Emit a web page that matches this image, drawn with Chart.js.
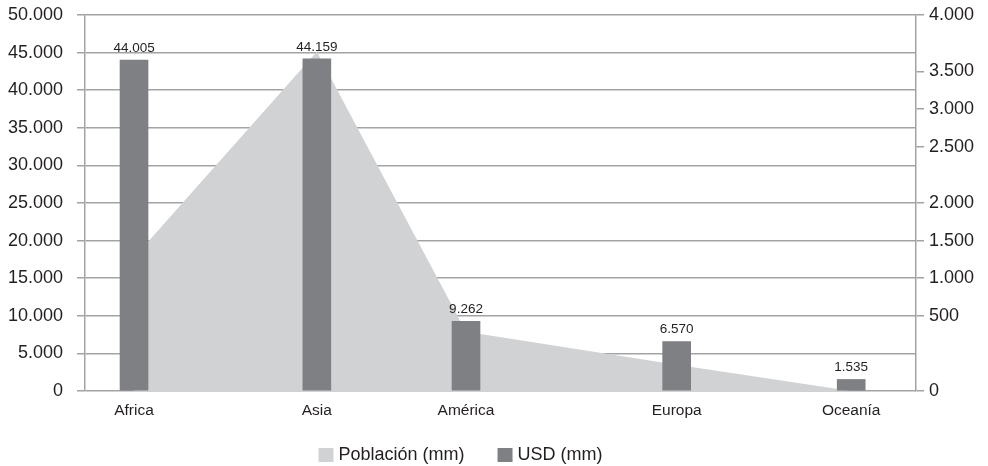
<!DOCTYPE html>
<html>
<head>
<meta charset="utf-8">
<script src="https://cdn.jsdelivr.net/npm/chart.js@4.4.1/dist/chart.umd.min.js"></script>
<style>
  html, body { margin: 0; padding: 0; background: #fff; }
  #wrap { width: 988px; height: 466px; position: relative; }
</style>
</head>
<body>
<div id="wrap"><canvas id="chart"></canvas></div>
<script>
// data
var categories = ['Africa', 'Asia', 'América', 'Europa', 'Oceanía'];
var catX = [0.59, 2.79, 4.585, 7.12, 9.22];        // where each category sits on the x scale
var usd = [44005, 44159, 9262, 6570, 1535];        // USD (mm), left axis
var poblacion = [1420, 3610, 630, 280, 0];         // Población (mm), right axis
var leftTicks = [0, 5000, 10000, 15000, 20000, 25000, 30000, 35000, 40000, 45000, 50000];
var rightTickLabels = ['0', '500', '1.000', '1.500', '2.000', '2.500', '3.000', '3.500', '4.000'];

var TEXT = '#231f20';
var GRID = '#a3a3a3';
var BAR = '#7f8084';
var AREA = '#d1d2d4';
var FONT = '"Liberation Sans", Arial, sans-serif';

function fmt(n) {
    return String(n).replace(/\B(?=(\d{3})+(?!\d))/g, '.');
}

// the right axis labels do not sit evenly in the picture
var rightTickAt = [0, 800, 1200, 1600, 2000, 2600, 3000, 3400, 4000];

// labels above bars
var barLabels = {
    id: 'barLabels',
    afterDatasetsDraw: function(chart) {
        var ctx = chart.ctx;
        var meta = chart.getDatasetMeta(0);
        ctx.save();
        ctx.font = '13.5px ' + FONT;
        ctx.fillStyle = TEXT;
        ctx.textAlign = 'center';
        ctx.textBaseline = 'middle';
        meta.data.forEach(function(bar, i) {
            ctx.fillText(fmt(usd[i]), bar.x, bar.y - 12);
        });
        ctx.restore();
    }
};

// legend drawn by hand, Población first
var legendBoxes = {
    id: 'legendBoxes',
    afterDraw: function(chart) {
        var ctx = chart.ctx;
        var items = [
            { text: chart.data.datasets[1].label, color: AREA },
            { text: chart.data.datasets[0].label, color: BAR }
        ];
        ctx.save();
        ctx.font = '18px ' + FONT;
        ctx.textBaseline = 'middle';
        var box = 15, gap = 5, itemGap = 33;
        var total = 0;
        items.forEach(function(it, i) {
            it.w = box + gap + ctx.measureText(it.text).width;
            total += it.w + (i ? itemGap : 0);
        });
        var x = (chart.chartArea.left + chart.chartArea.right) / 2 - 40 - total / 2;
        var y = 455;
        items.forEach(function(it) {
            ctx.fillStyle = it.color;
            ctx.fillRect(x, y - 7, box, 14);
            ctx.fillStyle = TEXT;
            ctx.fillText(it.text, x + box + gap, y);
            x += it.w + itemGap;
        });
        ctx.restore();
    }
};

Chart.defaults.font.family = FONT;
Chart.defaults.color = TEXT;

var ctx = document.getElementById('chart').getContext('2d');
var myChart = new Chart(ctx, {
    type: 'bar',
    data: {
        datasets: [
            {
                type: 'bar',
                label: 'USD (mm)',
                data: usd.map(function(v, i) { return { x: catX[i], y: v }; }),
                backgroundColor: BAR,
                barThickness: 28,
                yAxisID: 'y'
            },
            {
                type: 'line',
                label: 'Población (mm)',
                data: poblacion.map(function(v, i) { return { x: catX[i], y: v }; }),
                backgroundColor: AREA,
                borderWidth: 0,
                pointRadius: 0,
                tension: 0,
                fill: 'origin',
                yAxisID: 'y2'
            }
        ]
    },
    options: {
        responsive: true,
        maintainAspectRatio: false,
        animation: false,
        layout: { padding: { top: 15, left: 0, right: 0, bottom: 0 } },
        plugins: {
            legend: { display: false },
            tooltip: { enabled: false }
        },
        scales: {
            x: {
                type: 'linear',
                offset: false,
                min: 0,
                max: 10,
                grid: { display: false },
                border: { display: false },
                afterBuildTicks: function(scale) {
                    scale.ticks = catX.map(function(v) { return { value: v }; });
                },
                afterFit: function(scale) { scale.height = 75; },
                ticks: {
                    autoSkip: false,
                    maxRotation: 0,
                    padding: 2,
                    font: { size: 15.5 },
                    color: TEXT,
                    callback: function(v, i) { return categories[i]; }
                }
            },
            y: {
                position: 'left',
                min: 0,
                max: 50000,
                afterBuildTicks: function(scale) {
                    scale.ticks = leftTicks.map(function(v) { return { value: v }; });
                },
                afterFit: function(scale) {
                    scale.width = 85;
                    scale.paddingTop = 0;
                    scale.paddingBottom = 0;
                },
                grid: { color: GRID, lineWidth: 1.5, tickLength: 8 },
                border: { color: GRID, width: 1.5 },
                ticks: {
                    padding: 14,
                    font: { size: 18 },
                    color: TEXT,
                    callback: function(v) { return fmt(v); }
                }
            },
            y2: {
                position: 'right',
                min: 0,
                max: 4000,
                afterBuildTicks: function(scale) {
                    scale.ticks = rightTickAt.map(function(v) { return { value: v }; });
                },
                afterFit: function(scale) {
                    scale.width = 72;
                    scale.paddingTop = 0;
                    scale.paddingBottom = 0;
                },
                grid: { drawOnChartArea: false, color: GRID, lineWidth: 1.5, tickLength: 8 },
                border: { color: GRID, width: 1.5 },
                ticks: {
                    padding: 5,
                    font: { size: 18 },
                    color: TEXT,
                    callback: function(v, i) { return rightTickLabels[i]; }
                }
            }
        }
    },
    plugins: [barLabels, legendBoxes]
});
</script>
</body>
</html>
